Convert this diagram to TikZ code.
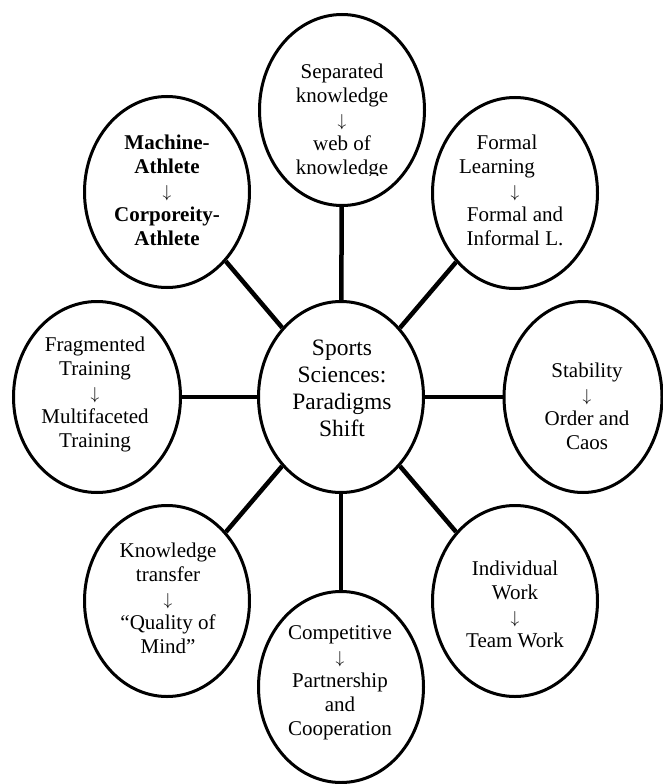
\documentclass[tikz,border=0pt]{standalone}
\usepackage{fontspec}
\setmainfont{Liberation Serif}
\usetikzlibrary{shapes.geometric}
\newcommand{\dnarr}{{\fontsize{16}{24}\selectfont$\downarrow$}}
\begin{document}
\begin{tikzpicture}[x=1pt,y=-1pt,
  bubble/.style={ellipse, draw, line width=3pt, inner sep=0pt, minimum width=165pt, minimum height=191pt},
  btext/.style={align=center, font=\fontsize{21}{24}\selectfont, inner sep=0pt},
  spoke/.style={line width=4.5pt}]
\useasboundingbox (0,0) rectangle (662,784);
% ellipses
\node[bubble] (top) at (342,110) {};
\node[bubble] (mach) at (167,192) {};
\node[bubble] (form) at (515,193) {};
\node[bubble] (cen) at (341,397) {};
\node[bubble, minimum width=167pt] (frag) at (97,397) {};
\node[bubble, minimum width=158pt] (stab) at (583,397) {};
\node[bubble] (know) at (167,601) {};
\node[bubble] (comp) at (341,687) {};
\node[bubble] (indiv) at (515,601) {};
% spokes
\draw[spoke] (cen) -- (top);
\draw[spoke] (cen) -- (mach);
\draw[spoke] (cen) -- (form);
\draw[spoke] (cen) -- (frag);
\draw[spoke] (cen) -- (stab);
\draw[spoke] (cen) -- (know);
\draw[spoke] (cen) -- (comp);
\draw[spoke] (cen) -- (indiv);
% texts
\begin{scope}
\clip (250,0) rectangle (440,175);
\node[btext] (ttop) at (342,121) {Separated\\knowledge\\\dnarr\\web of\\knowledge};
\end{scope}
\node[btext, font=\fontsize{21}{24}\selectfont\bfseries] (tmach) at (167,190) {Machine-\\Athlete\\\dnarr\\Corporeity-\\Athlete};
\node[btext] (tform) at (515,190) {\hspace*{-16pt}Formal\\\hspace*{-36pt}Learning\\\dnarr\\Formal and\\Informal L.};
\node[align=center, inner sep=0pt, font=\fontsize{23.5}{27}\selectfont] (tcen) at (342,388) {Sports\\Sciences:\\Paradigms\\Shift};
\node[btext] (tfrag) at (95,394) {Fragmented\\Training\\\dnarr\\Multifaceted\\Training};
\node[btext] (tstab) at (587,406) {Stability\\\dnarr\\Order and\\Caos};
\node[btext] (tknow) at (168,598) {Knowledge\\transfer\\\dnarr\\“Quality of\\Mind”};
\node[btext] (tcomp) at (340,683) {Competitive\\\dnarr\\Partnership\\and\\Cooperation};
\node[btext] (tindiv) at (515,604) {Individual\\Work\\\dnarr\\Team Work};
\end{tikzpicture}
\end{document}
